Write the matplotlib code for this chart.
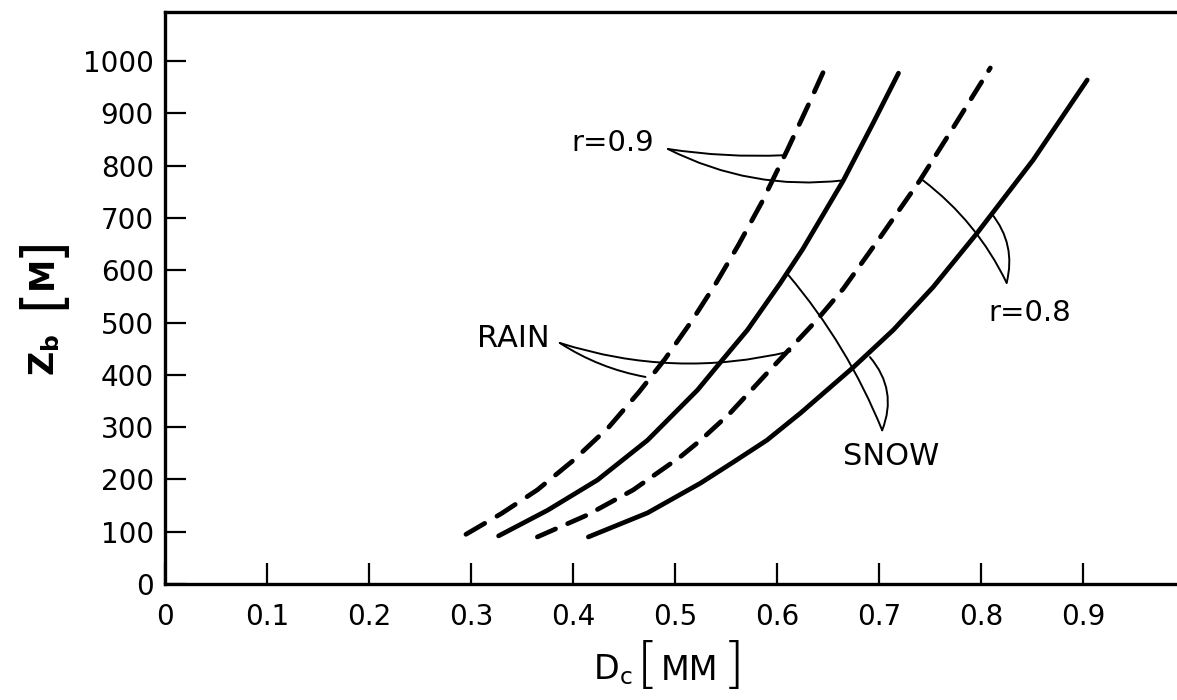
import matplotlib
matplotlib.use("Agg")
import matplotlib.pyplot as plt

# values: D_c [mm] against Z_b [m]
rain_09_d = [0.295, 0.33, 0.365, 0.40, 0.435, 0.465, 0.49, 0.517, 0.54, 0.562, 0.585, 0.61, 0.632, 0.645]
rain_09_z = [95, 135, 180, 236, 300, 368, 430, 505, 575, 648, 730, 830, 922, 978]

snow_09_d = [0.327, 0.375, 0.424, 0.473, 0.522, 0.544, 0.571, 0.603, 0.625, 0.665, 0.694, 0.719]
snow_09_z = [92, 141, 199, 275, 371, 423, 486, 575, 640, 772, 881, 977]

rain_08_d = [0.365, 0.414, 0.459, 0.505, 0.525, 0.554, 0.590, 0.603, 0.639, 0.665, 0.701, 0.740, 0.773, 0.809]
rain_08_z = [90, 132, 180, 243, 275, 327, 403, 430, 505, 565, 663, 772, 874, 987]

snow_08_d = [0.415, 0.473, 0.525, 0.557, 0.590, 0.623, 0.675, 0.714, 0.753, 0.796, 0.851, 0.904]
snow_08_z = [90, 136, 193, 233, 275, 327, 415, 486, 568, 671, 811, 964]

x_ticks = [0, 0.1, 0.2, 0.3, 0.4, 0.5, 0.6, 0.7, 0.8, 0.9]
x_labels = ["0", "0.1", "0.2", "0.3", "0.4", "0.5", "0.6", "0.7", "0.8", "0.9"]
y_ticks = [0, 100, 200, 300, 400, 500, 600, 700, 800, 900, 1000]

W, H = 1177, 700
plt.rcParams['font.family'] = ['DejaVu Sans']

fig = plt.figure(figsize=(W / 100, H / 100), dpi=100)
ax = fig.add_axes([165 / W, 116 / H, 1012 / W, 572 / H])

def px(x, y):
    # pixel position in the picture -> figure fraction
    return x / W, 1 - y / H

lw = 3.4
ax.plot(rain_09_d, rain_09_z, color='black', lw=lw, dashes=(4.6, 3.0),
        dash_capstyle='round', solid_joinstyle='round')
ax.plot(snow_09_d, snow_09_z, color='black', lw=lw, solid_capstyle='round',
        solid_joinstyle='round')
ax.plot(rain_08_d, rain_08_z, color='black', lw=lw, dashes=(4.2, 2.8),
        dash_capstyle='round')
ax.plot(snow_08_d, snow_08_z, color='black', lw=lw, solid_capstyle='round',
        solid_joinstyle='round')

ax.set_xlim(0, 0.992)
ax.set_ylim(0, 1094)

ax.spines['right'].set_visible(False)
for s in ['left', 'bottom', 'top']:
    ax.spines[s].set_linewidth(2.4)

ax.set_xticks(x_ticks)
ax.set_xticklabels(x_labels)
ax.set_yticks(y_ticks)
ax.tick_params(direction='in', length=15, width=1.6, labelsize=20)
ax.tick_params(axis='x', pad=14)
ax.tick_params(axis='y', pad=8)

# leader lines and labels
lead = dict(arrowstyle='-', color='black', lw=1.4, shrinkA=0, shrinkB=0)

ax.text(0.439, 843, 'r=0.9', ha='center', va='center', fontsize=21)
ax.annotate('', xy=(0.606, 820), xytext=(0.493, 832),
            arrowprops=dict(lead, connectionstyle='arc3,rad=0.05'))
ax.annotate('', xy=(0.665, 772), xytext=(0.493, 832),
            arrowprops=dict(lead, connectionstyle='arc3,rad=0.15'))

ax.text(0.341, 470, 'RAIN', ha='center', va='center', fontsize=22)
ax.annotate('', xy=(0.471, 396), xytext=(0.387, 461),
            arrowprops=dict(lead, connectionstyle='arc3,rad=0.1'))
ax.annotate('', xy=(0.613, 445), xytext=(0.387, 461),
            arrowprops=dict(lead, connectionstyle='arc3,rad=0.14'))

ax.text(0.712, 243, 'SNOW', ha='center', va='center', fontsize=22)
ax.annotate('', xy=(0.611, 591), xytext=(0.703, 294),
            arrowprops=dict(lead, connectionstyle='arc3,rad=0.08'))
ax.annotate('', xy=(0.691, 434), xytext=(0.703, 294),
            arrowprops=dict(lead, connectionstyle='arc3,rad=0.3'))

ax.text(0.848, 518, 'r=0.8', ha='center', va='center', fontsize=21)
ax.annotate('', xy=(0.743, 772), xytext=(0.825, 576),
            arrowprops=dict(lead, connectionstyle='arc3,rad=0.12'))
ax.annotate('', xy=(0.810, 709), xytext=(0.825, 576),
            arrowprops=dict(lead, connectionstyle='arc3,rad=0.25'))

# axis titles, drawn in pieces so the brackets can be tall
fig.text(*px(632, 679), r'D$_\mathregular{c}$', ha='right', va='baseline', fontsize=24)
fig.text(*px(648, 667), '[', ha='center', va='center', fontsize=40, fontweight='light')
fig.text(*px(690, 680), 'MM', ha='center', va='baseline', fontsize=24)
fig.text(*px(734, 667), ']', ha='center', va='center', fontsize=40, fontweight='light')

fig.text(*px(54, 376), r'Z$_\mathregular{b}$', rotation=90, rotation_mode='anchor',
         ha='left', va='baseline', fontsize=24, fontweight='bold')
fig.text(*px(42, 298), '[', rotation=90, ha='center', va='center', fontsize=40)
fig.text(*px(42, 272), 'M', rotation=90, ha='center', va='center', fontsize=24, fontweight='bold')
fig.text(*px(42, 246), ']', rotation=90, ha='center', va='center', fontsize=40)

fig.savefig('out.png', dpi=100)
